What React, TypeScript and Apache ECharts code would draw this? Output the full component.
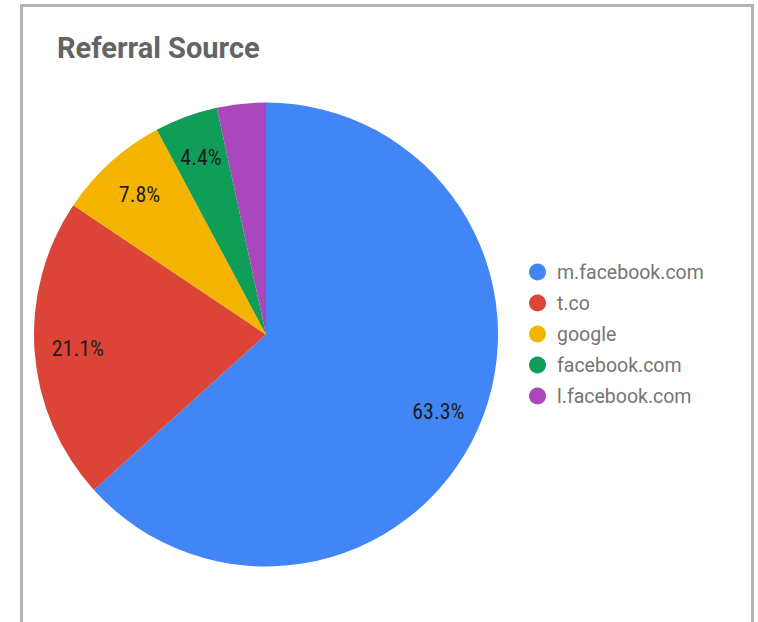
import React, { useEffect, useRef } from "react";
import * as echarts from "echarts";

const categories = ["m.facebook.com", "t.co", "google", "facebook.com", "l.facebook.com"];
const shares = [63.3, 21.1, 7.8, 4.4, 3.4];
const colors = ["#4285F4", "#DB4437", "#F4B400", "#0F9D58", "#AB47BC"];
const labelShown = [true, true, true, true, false];

export default function App() {
  const ref = useRef<HTMLDivElement>(null);
  useEffect(() => {
    const chart = echarts.init(ref.current!, null, { renderer: "svg" });
    const R = 232;
    chart.setOption({
      animation: false,
      backgroundColor: "#ffffff",
      title: {
        text: "Referral Source",
        left: 57,
        top: 33,
        padding: 0,
        textStyle: { fontFamily: "Roboto", fontWeight: "bold", fontSize: 29, color: "#646464" },
      },
      legend: {
        orient: "vertical",
        left: 529,
        top: 262,
        padding: 0,
        itemWidth: 17,
        itemHeight: 17,
        itemGap: 11,
        icon: "circle",
        data: categories,
        textStyle: { fontFamily: "Roboto", fontSize: 19.5, color: "#757575", padding: [0, 0, 0, 6] },
      },
      graphic: [
        {
          type: "rect",
          silent: true,
          shape: { x: 21.5, y: 5.5, width: 731, height: 700 },
          style: { fill: "none", stroke: "#b3b3b3", lineWidth: 3 },
        },
      ],
      series: [
        {
          type: "pie",
          center: [266, 334.5],
          radius: [0, R],
          startAngle: 90,
          clockwise: true,
          label: { show: false },
          labelLine: { show: false },
          emphasis: { disabled: true },
          data: categories.map((name, i) => ({
            name,
            value: shares[i],
            itemStyle: { color: colors[i] },
          })),
        },
        {
          type: "pie",
          center: [266, 334.5],
          radius: [R * 0.6, R],
          startAngle: 90,
          clockwise: true,
          silent: true,
          emphasis: { disabled: true },
          itemStyle: { color: "transparent" },
          labelLine: { show: false },
          label: {
            show: true,
            position: "inside",
            formatter: (p: any) => p.value.toFixed(1) + "%",
            fontFamily: "Liberation Sans Narrow, Roboto Condensed, DejaVu Sans Condensed",
            fontSize: 22,
            color: "#1e1e1e",
          },
          data: categories.map((name, i) => ({
            name,
            value: shares[i],
            label: { show: labelShown[i] },
          })),
        },
      ],
    });
    return () => chart.dispose();
  }, []);
  return (
    <div
      ref={ref}
      style={{ position: "absolute", left: 0, top: 0, width: 758, height: 622 }}
    />
  );
}
